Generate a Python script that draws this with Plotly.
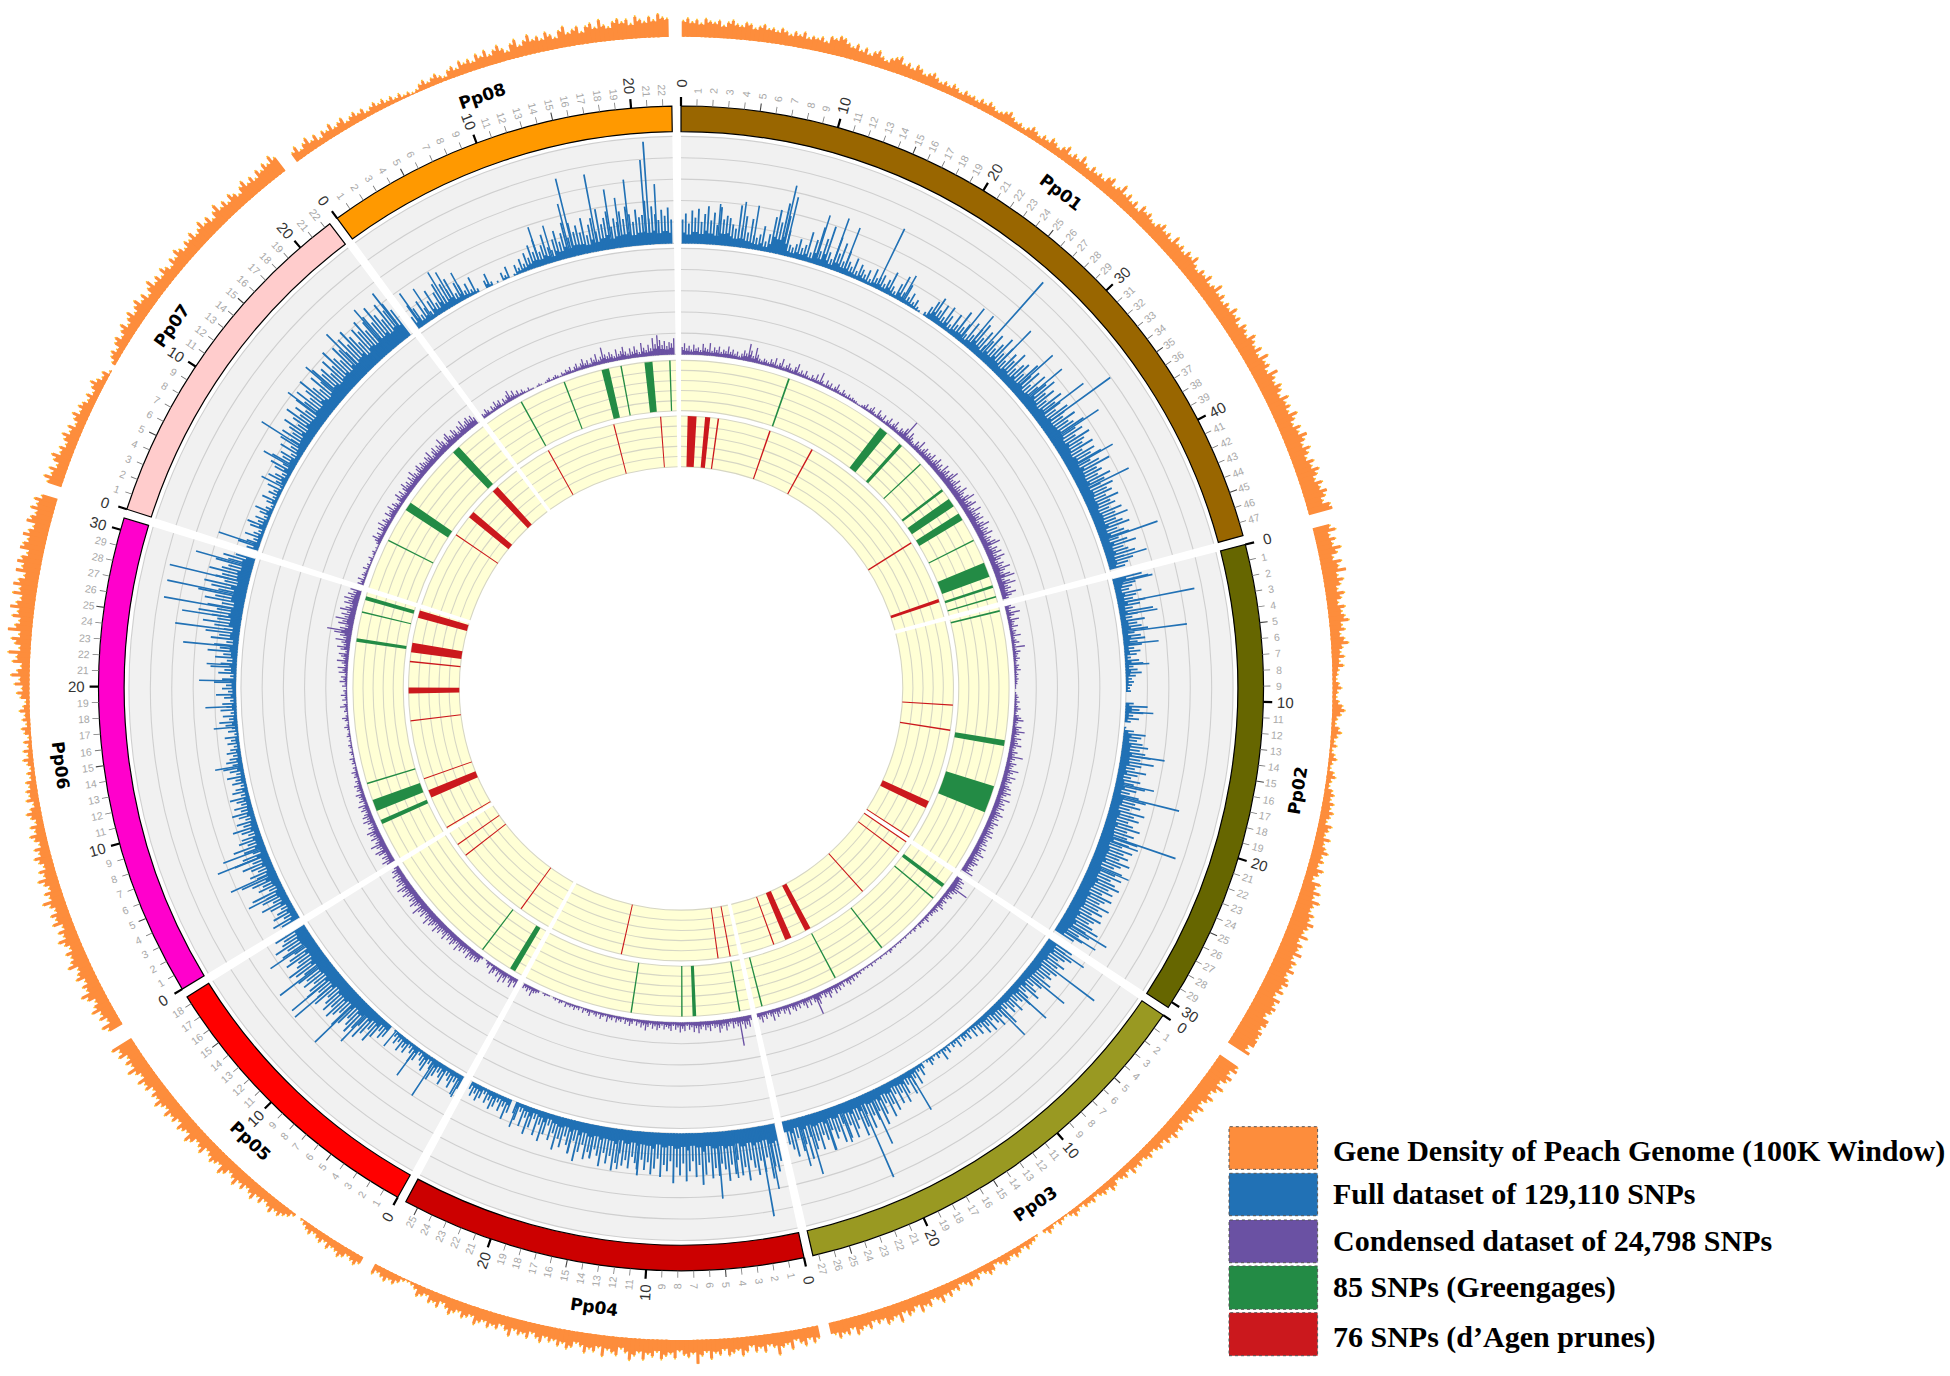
import math
import plotly.graph_objects as go

W, H = 1950, 1376
CX, CY = 681.0, 688.4

chrom_names = ["Pp01", "Pp02", "Pp03", "Pp04", "Pp05", "Pp06", "Pp07", "Pp08"]
chrom_len = [47.85, 30.4, 27.37, 25.84, 18.5, 30.77, 22.39, 22.57]
chrom_color = ["#996600", "#666600", "#999922", "#CC0000", "#FF0000", "#FF00CC", "#FFCCCC", "#FF9900"]
tick_top = [47, 30, 27, 25, 18, 30, 22, 22]

orange_pp01 = [13,15,12,14,11,15,13,12,14,10,13,15,12,11,14,13,10,12,14,11,
12,10,13,11,9,12,10,13,9,11,10,12,9,14,13,16,15,12,10,13,
9,12,8,11,13,9,7,10,12,14,9,11,8,12,10,7,9,11,8,6,
8,6,9,7,5,8,6,7,5,8,6,9,7,5,6,8,10,7,5,6,
4,6,9,7,5,8,6,10,8,6,9,12,7,10,8,13,9,7,11,8,
10,8,12,14,9,11,16,10,13,9,12,8,14,11,13,10,9,12,15,11,
13,10,16,12,14,11,15,13,17,12,10,14,12,16,11,13,18,12,15,11,
14,12,17,13,15,11,16,14,12,18,15,13,17,12,19,14,16,12,20,15,
13,17,15,12,18,14,16,13,19,15,12,17,14,20,16,13,18,15,12,17,
14,19,16,13,18,15,20,17,14,19,22]
orange_pp02 = [14,18,12,16,13,19,15,11,17,14,20,12,16,13,10,15,12,9,14,11,
13,16,10,12,8,11,14,9,7,10,6,9,5,4,3,5,7,4,3,5,
8,10,7,4,3,6,8,5,3,5,2,4,6,3,2,5,7,4,3,6,
8,6,9,7,10,8,6,11,9,7,12,8,10,13,9,11,8,13,10,7,
14,11,16,12,18,14,13,17,15,20,16,14,19,13,17,15,21,14,18,16,
20,15,18,22,16,19,14,21,17,23,18,15,20,24,17,22,19,25,21,16,23]
orange_pp03 = [18,22,15,20,17,13,19,15,12,17,14,11,16,13,10,15,12,9,13,11,
14,10,12,8,11,9,7,10,8,6,9,7,10,5,8,6,4,7,9,5,
7,5,3,6,4,5,2,4,6,3,1,2,4,1,3,5,2,0,1,3,
4,6,3,5,7,4,6,8,5,3,7,9,6,4,8,6,10,7,5,9,
7,11,8,13,9,7,12,10,14,8,11,13,9,16,10,12,14,9,11,8,
13,10,12,15,9,13,11,14,10,12]
orange_pp04 = [10,13,9,14,11,8,15,10,12,18,11,9,14,10,13,8,12,15,10,12,
14,9,13,11,16,10,13,20,11,14,12,9,15,11,13,16,10,14,12,17,
11,14,18,12,9,15,13,11,17,10,14,12,16,11,9,13,15,11,14,10,
12,9,14,11,8,13,10,12,9,15,11,8,12,10,13,9,11,14,8,10,
12,8,10,13,9,6,11,8,10,5,7,9,4,2,1,2,5,8,6,9,
7,5,8]
orange_pp05 = [6,9,7,5,8,10,7,6,9,5,8,6,4,7,5,3,1,0,2,5,
7,10,8,12,9,7,11,8,13,10,8,12,9,14,10,8,12,15,9,11,
13,10,8,14,11,9,13,16,10,12,14,9,13,11,15,10,12,16,11,13,
9,14,12,16,10,13,18,12,15,11,17,14,19]
orange_pp06 = [12,16,9,14,11,17,13,10,15,19,12,14,10,16,13,11,18,14,12,15,
10,13,17,11,14,9,16,12,15,10,13,18,11,14,9,12,16,10,13,8,
11,14,9,12,7,10,13,8,11,6,9,12,8,5,10,7,9,6,8,4,
6,3,5,8,4,7,3,6,2,5,7,3,6,4,8,5,3,7,10,6,
12,8,15,10,7,14,11,18,9,13,16,10,20,14,11,17,13,22,15,12,
19,14,24,16,12,20,15,26,17,13,21,18,15,23,16,13,20,17,14,19,15,18,13]
orange_pp07 = [12,16,11,14,9,13,16,10,12,8,11,14,9,12,7,10,13,8,11,9,
6,9,5,8,11,7,4,6,1,0,3,6,8,5,9,11,7,10,13,8,
11,14,9,12,15,10,13,8,12,16,10,13,9,14,11,8,13,10,15,12,
9,13,11,15,10,12,16,11,14,9,13,17,11,14,10,15,12,9,13,16,
11,14,10,15,12,16,13,18,14]
orange_pp08 = [8,11,6,9,12,7,10,5,9,7,11,6,8,10,5,7,9,6,8,4,
6,8,5,7,4,6,3,5,2,3,1,2,5,7,4,6,8,5,3,7,
9,6,11,8,10,7,12,9,13,8,11,14,10,7,12,15,9,12,16,11,
13,10,15,12,9,14,17,11,13,15,10,14,16,12,18,13,11,15,17,14,
16,12,18,15,13,17,14,19,16,15]

blue_pp01 = [24,30,20,33,26,35,22,30,38,24,32,20,38,26,30,28,22,18,42,20,
32,16,30,14,12,16,25,10,18,36,44,32,52,40,26,12,10,14,20,12,
16,30,10,24,38,14,28,42,16,10,34,18,30,12,24,14,10,20,8,16,
12,8,14,6,18,10,12,16,8,14,24,10,6,16,26,10,20,8,14,6,
10,4,2,0,4,12,20,26,14,22,10,24,16,8,22,12,30,14,20,10,
26,14,24,32,18,28,14,22,32,18,26,36,20,30,16,28,22,34,18,26,
30,20,36,24,32,18,34,22,30,38,24,32,20,36,26,30,22,34,28,24,
36,26,30,40,28,34,24,38,30,26,36,22,34,28,38,24,32,42,26,30,
24,36,28,22,34,26,30,22,34,24,28,20,32,24,36,22,28,34,20,26,
30,18,26,34,20,24,30,18,26,20,16]
blue_pp02 = [30,36,22,18,14,26,20,16,28,22,14,34,18,12,24,16,20,26,12,18,
22,14,18,10,16,12,6,14,18,8,12,16,10,6,8,6,4,5,0,0,
0,8,22,14,18,8,14,6,0,2,10,22,18,14,20,26,18,24,30,20,
34,22,16,28,20,14,24,18,30,22,16,26,34,24,30,20,36,26,32,22,
28,36,24,32,26,38,30,24,36,28,34,26,38,30,24,34,28,36,26,32,
38,28,34,24,36,30,26,38,28,34,24,36,30,26,32,40,28,34,24,30,22]
blue_pp03 = [28,22,32,26,20,30,24,18,28,22,26,20,30,18,24,16,22,28,14,20,
26,18,14,24,16,20,12,28,18,14,22,16,10,20,12,18,8,14,6,12,
4,10,6,8,3,10,4,6,2,8,4,12,3,6,2,5,8,3,1,6,
12,6,18,10,16,24,12,20,28,16,26,14,30,22,34,18,28,38,22,30,
24,36,20,32,40,22,30,38,24,36,20,38,26,32,22,42,30,24,38,28,
36,22,44,28,34,20,38,30,24,32]
blue_pp04 = [38,48,42,54,32,46,34,48,40,32,52,38,46,30,44,34,50,38,32,44,
36,46,30,42,52,32,44,28,38,48,30,42,34,50,28,38,32,44,26,36,
42,30,38,28,44,32,26,38,30,36,24,34,42,28,36,26,40,30,24,34,
28,36,22,30,40,20,34,26,18,30,22,34,18,26,12,22,30,14,26,10,
20,28,12,22,8,18,12,0,14,22,10,16,8,14,18,10,14,6,12,16,
10,14,8]
blue_pp05 = [14,22,10,18,12,8,20,14,10,16,22,12,8,18,14,10,6,14,18,10,
6,14,10,16,8,12,6,2,0,14,18,12,22,30,18,26,34,22,28,36,
30,24,34,40,26,32,38,28,36,30,24,38,32,28,40,34,26,36,30,38,
28,36,42,30,26,38,32,24,36,28,40,30,26,34]
blue_pp06 = [20,28,14,24,18,12,22,30,16,26,20,34,14,24,18,28,38,20,26,16,
22,30,18,36,26,14,22,32,16,24,20,12,18,26,14,20,10,16,22,12,
18,10,14,20,8,16,12,6,14,10,18,8,14,20,10,16,12,8,14,10,
6,12,8,14,4,10,6,12,18,8,14,6,16,10,14,6,12,20,8,14,
10,22,14,6,18,12,26,16,10,22,14,30,18,24,12,28,20,34,16,26,
38,24,30,44,26,36,22,40,30,48,28,36,44,24,34,28,42,30,24,38,26,32,20]
blue_pp07 = [12,22,14,8,18,10,6,16,20,10,14,6,12,18,8,4,10,16,6,12,
8,16,4,10,20,14,8,18,24,12,26,16,20,10,24,14,28,18,30,20,
26,34,20,28,38,24,32,22,36,28,40,26,34,44,30,24,38,28,42,32,
36,26,40,30,46,34,28,42,36,30,44,34,48,38,28,42,36,46,32,40,
44,34,50,38,30,46,36,42,32]
blue_pp08 = [14,26,20,10,24,14,8,18,28,12,22,30,14,26,18,28,10,20,16,8,
14,6,18,4,0,0,8,14,4,0,2,0,8,4,12,0,2,10,6,14,
8,18,12,24,16,28,14,20,30,16,12,22,30,18,26,36,20,34,24,30,
22,36,18,28,34,20,42,26,32,38,22,30,26,36,28,40,32,24,36,28,
30,44,26,38,30,24,34,28,36,24]

spike_chrom = [0]*23 + [1]*15 + [2]*12 + [3]*9 + [4]*10 + [5]*16 + [6]*9 + [7]*16
spike_mb = [3.0,4.9,5.9,8.3,8.6,11.2,12.6,13.6,16.6,19.0,24.7,25.6,26.7,28.4,30.8,32.0,33.8,34.6,36.0,38.7,40.8,45.2,46.9,
0.45,2.1,3.1,4.5,5.5,7.2,11.1,14.6,17.0,18.0,21.3,21.7,24.0,29.2,29.8,
0.4,1.9,3.4,5.1,7.1,16.1,19.8,20.7,22.5,23.8,25.3,26.0,
0.7,1.4,3.5,4.8,11.2,12.7,14.9,16.6,21.5,
0.2,2.8,4.6,6.8,9.5,10.8,13.1,13.6,15.0,17.0,
2.6,4.3,5.9,6.5,13.5,16.7,18.4,20.5,21.8,23.3,24.6,25.6,26.3,27.5,28.6,30.0,
0.5,5.7,7.5,9.3,12.2,14.5,17.3,20.0,21.8,
0.45,1.5,3.1,3.6,4.6,11.4,12.5,14.0,14.3,16.3,17.5,18.2,19.0,20.3,20.6,21.2]
spike_val = [41,46,44,71,60,51,54,49,66,30,41,41,99,55,54,52,60,85,57,51,54,60,41,
40,78,38,65,35,24,28,44,39,68,78,40,42,53,45,
45,73,51,47,43,45,57,88,40,42,61,50,
65,91,48,67,38,40,33,33,26,
24,43,35,20,45,64,62,60,60,52,
40,49,54,45,28,24,31,37,30,55,65,60,80,80,81,59,
43,25,35,52,47,49,56,55,56,
40,36,42,38,30,41,38,55,80,78,60,50,67,85,103,60]

purple_pp01 = [6,9,5,7,4,8,5,6,4,9,6,5,10,4,7,5,8,4,6,5,
9,5,7,4,6,3,5,8,6,14,9,5,12,7,4,3,5,4,3,6,
4,8,3,5,9,3,5,7,4,3,6,9,3,5,3,6,3,2,5,3,
7,3,10,4,2,6,3,5,2,4,7,3,2,5,3,2,4,2,3,2,
2,1,1,2,3,5,2,4,6,3,2,7,4,3,6,2,4,7,3,5,
8,4,3,6,5,9,17,5,9,6,4,3,7,5,10,4,6,8,5,7,
6,9,5,7,10,6,8,5,11,7,9,6,10,13,7,8,11,6,9,7,
12,8,6,10,14,7,9,12,6,8,13,7,10,8,11,6,9,13,7,10,
8,12,6,9,7,11,14,6,10,8,12,7,13,9,6,10,8,14,9,7,
12,15,6,10,14,7,9,6,12,8,5]
purple_pp02 = [5,8,4,11,6,3,9,5,4,7,3,5,4,8,3,4,6,3,10,3,
6,4,3,5,3,2,4,3,5,2,3,2,3,2,2,1,1,0,1,2,
3,2,4,2,3,5,3,2,4,6,8,4,3,7,5,10,6,4,8,5,
6,9,5,4,7,5,12,6,4,8,6,5,11,7,5,10,6,8,5,7,
9,6,10,7,5,11,6,8,6,9,5,7,10,6,8,5,9,6,7,5,
8,6,9,5,7,6,8,5,9,6,7,10,5,8,6,9,7,5,8,6,10]
purple_pp03 = [5,8,6,9,7,16,8,6,4,7,5,3,6,4,5,7,3,5,4,3,
4,2,3,5,2,3,2,4,1,2,3,1,2,1,1,2,1,1,2,1,
1,2,1,2,3,1,2,1,1,2,1,1,2,1,3,1,2,1,2,1,
3,2,4,2,5,3,6,4,2,5,3,6,4,7,3,5,8,4,6,3,
5,9,17,6,3,7,4,8,5,3,6,4,7,5,3,8,4,6,3,5,
7,4,9,5,3,6,4,8,5,6]
purple_pp04 = [4,9,7,10,6,23,7,5,8,4,6,9,5,7,10,5,6,4,8,5,
7,4,6,9,5,8,4,6,3,7,5,8,4,6,3,7,5,4,6,3,
5,7,4,6,3,5,8,4,6,3,5,2,4,6,3,5,2,4,3,5,
2,4,3,6,2,3,5,2,4,3,2,5,3,2,4,1,3,2,4,2,
3,2,4,1,2,3,1,2,1,0,1,1,2,1,0,2,3,4,7,3,
5,3,4]
purple_pp05 = [7,4,9,6,3,8,5,10,4,7,3,6,8,2,5,3,1,0,2,6,
7,5,8,6,9,4,7,5,8,6,10,5,7,9,6,8,5,10,7,6,
9,7,11,6,8,10,7,12,8,6,10,7,9,13,6,8,11,7,9,6,
8,11,7,9,12,6,10,7,8,5,9,6,7,4]
purple_pp06 = [7,10,6,8,5,9,11,6,8,12,7,5,9,6,8,10,5,7,4,6,
9,5,8,6,4,7,5,8,3,6,4,5,7,3,5,4,6,3,4,2,
4,3,5,2,3,1,3,2,4,1,2,3,1,2,3,1,2,1,3,2,
1,2,4,2,1,3,5,2,1,3,2,6,3,1,4,2,5,2,3,1,
4,2,6,3,5,2,7,4,8,3,5,9,4,6,8,3,7,10,5,7,
12,6,9,14,20,10,6,12,9,15,8,11,7,13,9,6,11,8,12,7,10,6,9]
purple_pp07 = [5,3,6,2,4,3,2,5,2,3,1,2,4,1,2,3,1,2,1,3,
5,8,4,6,3,7,5,9,4,7,5,3,8,5,6,9,4,7,5,3,
6,9,5,8,4,7,10,6,8,5,9,6,11,7,5,8,10,6,9,7,
6,9,7,11,5,8,10,6,9,7,12,8,5,9,11,7,6,10,8,5,
9,7,11,6,8,10,7,9,6]
purple_pp08 = [4,3,6,4,2,5,3,7,4,6,2,5,3,6,9,4,7,3,5,2,
4,2,1,3,1,1,0,1,2,1,0,1,2,3,1,2,3,2,1,3,
2,4,3,5,2,4,6,3,5,8,4,6,3,7,5,9,4,6,13,7,
5,8,6,4,9,5,7,10,6,4,8,5,9,6,4,11,7,5,9,6,
14,9,16,12,8,11,7,10,9,13]

green_chrom = [0]*11 + [1]*3 + [2]*5 + [3]*4 + [4]*2 + [5]*6 + [6]*3 + [7]*6
green_mb = [12.3,24.4,26.9,30.0,33.8,35.5,37.4,40.4,44.0,46.0,47.2,
0.4,15.3,21.8,
1.8,3.6,11.6,17.8,26.6,
1.2,6.3,7.7,13.4,
1.15,5.2,
4.5,6.5,9.1,25.3,28.5,30.1,
5.7,10.1,18.4,
4.5,9.8,14.6,16.4,19.5,21.9]
green_span = [.2,1.0,.4,.16,.3,1.0,.85,.16,1.7,.3,.16,
.2,.65,3.1,
.45,.16,.16,.16,.16,
.16,.4,.16,.16,
.65,.16,
.5,1.3,.16,.4,.16,.45,
.16,1.0,.9,
.16,.16,.85,.16,.9,.16]

red_chrom = [0]*7 + [1]*4 + [2]*6 + [3]*3 + [4]*3 + [5]*8 + [6]*3 + [7]*3
red_mb = [1.5,3.6,5.05,12.2,18.4,36.9,45.55,
11.4,14.8,25.3,30.3,
0.1,1.8,9.0,18.0,20.9,23.0,
1.15,2.8,15.9,
4.4,14.8,16.6,
0.25,5.3,7.5,15.5,19.6,23.5,25.4,30.0,
10.5,13.9,18.6,
4.5,14.0,20.4]
red_span = [1.2,.7,.2,.2,.2,.2,.45,
.16,.2,1.0,.16,
.16,.16,.16,.8,.9,.16,
.16,.16,.16,
.16,.16,.16,
.16,1.05,.16,.16,.8,.2,1.3,1.0,
.16,.95,.9,
.16,.16,.16]

legend_labels = ["Gene Density of Peach Genome (100K Window)", "Full dataset of 129,110 SNPs",
                 "Condensed dataset of 24,798 SNPs", "85 SNPs (Greengages)", "76 SNPs (d\u2019Agen prunes)"]
legend_colors = ["#FD8D3C", "#2171B5", "#6A51A3", "#238B45", "#CB181D"]

orange_all = [orange_pp01, orange_pp02, orange_pp03, orange_pp04, orange_pp05, orange_pp06, orange_pp07, orange_pp08]
blue_all = [blue_pp01, blue_pp02, blue_pp03, blue_pp04, blue_pp05, blue_pp06, blue_pp07, blue_pp08]
purple_all = [purple_pp01, purple_pp02, purple_pp03, purple_pp04, purple_pp05, purple_pp06, purple_pp07, purple_pp08]

GAP = 0.9
DEG = (360 - GAP * len(chrom_len)) / sum(chrom_len)
STEP = 0.25
starts = []
_a = 0.0
for L in chrom_len:
    starts.append(_a)
    _a += L * DEG + GAP


def ang(c, mb):
    return starts[c] + mb * DEG


def bars(theta, r, base, width, color, line=None):
    return go.Barpolar(theta=theta, r=r, base=base, width=width,
                       marker=dict(color=color, line=dict(width=line[0] if line else 0, color=line[1] if line else color)),
                       hoverinfo="skip", showlegend=False)


def mid_theta():
    return [ang(i, L / 2) for i, L in enumerate(chrom_len)]


spans = [L * DEG for L in chrom_len]
n = len(chrom_len)
traces = []

# background bands
for lo, hi, col in [(445, 552, "#F1F1F1"), (334, 440, "#F1F1F1"), (277.7, 328, "#FFFFD5"), (221.7, 272.4, "#FFFFD5")]:
    traces.append(bars(mid_theta(), [hi - lo] * n, [lo] * n, spans, col))
    g_t, g_r, g_w = [], [], []
    for k in range(6):
        rr = lo + (hi - lo) * k / 5
        g_t += mid_theta()
        g_r += [rr - 0.5] * n
        g_w += spans
    traces.append(bars(g_t, [1.1] * len(g_t), g_r, g_w, "#CFCFCF" if col == "#F1F1F1" else "#D6D6C4"))


def track(data, base, color, width_mb, extra=0.0, unit=1.0):
    t, r = [], []
    for c, vals in enumerate(data):
        for i, v in enumerate(vals):
            mb = (i + 0.5) * STEP
            if v > 0 and mb < chrom_len[c]:
                t.append(ang(c, mb))
                r.append(v * unit + extra)
    return bars(t, r, [base] * len(t), [width_mb * DEG] * len(t), color)


def floor(data, base, color, share, unit=1.0):
    # solid lower part of a dense track: the lower of two neighbouring windows
    t, r = [], []
    for c, vals in enumerate(data):
        for i in range(len(vals) - 1):
            mb = (i + 1) * STEP
            low = min(vals[i], vals[i + 1])
            if low > 0 and mb < chrom_len[c]:
                t.append(ang(c, mb))
                r.append(low * share * unit)
    return bars(t, r, [base] * len(t), [STEP * 1.05 * DEG] * len(t), color)


traces.append(track(orange_all, 651.6, "#FFC024", 0.09, 1.5, 1.2))
traces.append(track(orange_all, 651.6, "#FD8D3C", 0.17, 0.0, 1.2))
traces.append(floor(orange_all, 651.6, "#FD8D3C", 0.95, 1.2))
traces.append(floor(blue_all, 445, "#2171B5", 0.45))
traces.append(track(blue_all, 445, "#2171B5", 0.14))
traces.append(bars([ang(c, m) for c, m in zip(spike_chrom, spike_mb)], spike_val, [445] * len(spike_val),
                   [0.12 * DEG] * len(spike_val), "#2171B5"))
traces.append(floor(purple_all, 334, "#6A51A3", 0.6, 1.25))
traces.append(track(purple_all, 334, "#6A51A3", 0.14, 0.0, 1.25))

traces.append(bars([ang(c, m) for c, m in zip(green_chrom, green_mb)], [50.3] * len(green_mb), [277.7] * len(green_mb),
                   [s * DEG for s in green_span], "#238B45"))
traces.append(bars([ang(c, m) for c, m in zip(red_chrom, red_mb)], [50.7] * len(red_mb), [221.7] * len(red_mb),
                   [s * DEG for s in red_span], "#CB181D"))

# ideogram
traces.append(bars(mid_theta(), [25.6] * n, [556.8] * n, spans, chrom_color, line=(1.2, "#000000")))

# ticks and labels
annotations = []


def paper(theta, r):
    a = math.radians(theta)
    return (CX + r * math.sin(a)) / W, 1 - (CY - r * math.cos(a)) / H


for c, top in enumerate(tick_top):
    for mb in range(top + 1):
        th = ang(c, mb)
        major = mb % 10 == 0
        five = mb % 5 == 0
        length = 9 if major else (8 if five else 7)
        wpx = 2.2 if major else (1.1 if five else 0.8)
        tcol = "#000000" if major else ("#444444" if five else "#777777")
        traces.append(go.Barpolar(theta=[th], r=[length], base=[582.4], width=[wpx / 585 * 180 / math.pi],
                                  marker=dict(color=tcol, line=dict(width=0)), hoverinfo="skip", showlegend=False))
        rot = th - 90 if th <= 180 else th + 90
        px, py = paper(th, 605 if major else 598)
        annotations.append(dict(x=px, y=py, xref="paper", yref="paper", text=str(mb), showarrow=False,
                                xanchor="center", yanchor="middle", textangle=rot,
                                font=dict(family="Liberation Sans", size=15 if major else 10.5,
                                          color="#333333" if major else "#A8A8A8")))

for c, name in enumerate(chrom_names):
    th = ang(c, chrom_len[c] / 2)
    rot = th - 180 if 90 < th < 270 else th
    if rot > 180:
        rot -= 360
    px, py = paper(th, 625)
    annotations.append(dict(x=px, y=py, xref="paper", yref="paper", text="<b>%s</b>" % name, showarrow=False,
                            xanchor="center", yanchor="middle", textangle=rot,
                            font=dict(family="DejaVu Sans", size=17, color="#000000")))

# legend
shapes = []
leg_top = [1126.7, 1173.3, 1220, 1266, 1312.7]
leg_bot = [1169.3, 1215.7, 1262.7, 1309.3, 1355.7]
leg_text_y = [1150.7, 1193, 1240, 1286.7, 1336.7]
for col, t, b, ty, lab in zip(legend_colors, leg_top, leg_bot, leg_text_y, legend_labels):
    shapes.append(dict(type="rect", xref="paper", yref="paper", x0=1229 / W, x1=1317.6 / W, y0=1 - b / H, y1=1 - t / H,
                       fillcolor=col, line=dict(color="#555555", width=1, dash="dot")))
    annotations.append(dict(x=1331 / W, y=1 - ty / H, xref="paper", yref="paper", text="<b>%s</b>" % lab,
                            showarrow=False, xanchor="left", yanchor="middle",
                            font=dict(family="Liberation Serif", size=30, color="#000000")))

RMAX = 676.0
fig = go.Figure(traces)
fig.update_layout(
    width=W, height=H, margin=dict(l=0, r=0, t=0, b=0), autosize=False,
    paper_bgcolor="white", plot_bgcolor="white", showlegend=False,
    annotations=annotations, shapes=shapes,
    polar=dict(
        domain=dict(x=[(CX - RMAX) / W, (CX + RMAX) / W], y=[1 - (CY + RMAX) / H, 1 - (CY - RMAX) / H]),
        bgcolor="white", barmode="overlay", bargap=0, hole=0,
        radialaxis=dict(visible=False, range=[0, RMAX], showgrid=False),
        angularaxis=dict(visible=False, rotation=90, direction="clockwise", showgrid=False, type="linear"),
    ),
)
fig.write_html("out.html", config={"displayModeBar": False},
               post_script="document.body.style.margin='0';document.documentElement.style.overflow='hidden';")
